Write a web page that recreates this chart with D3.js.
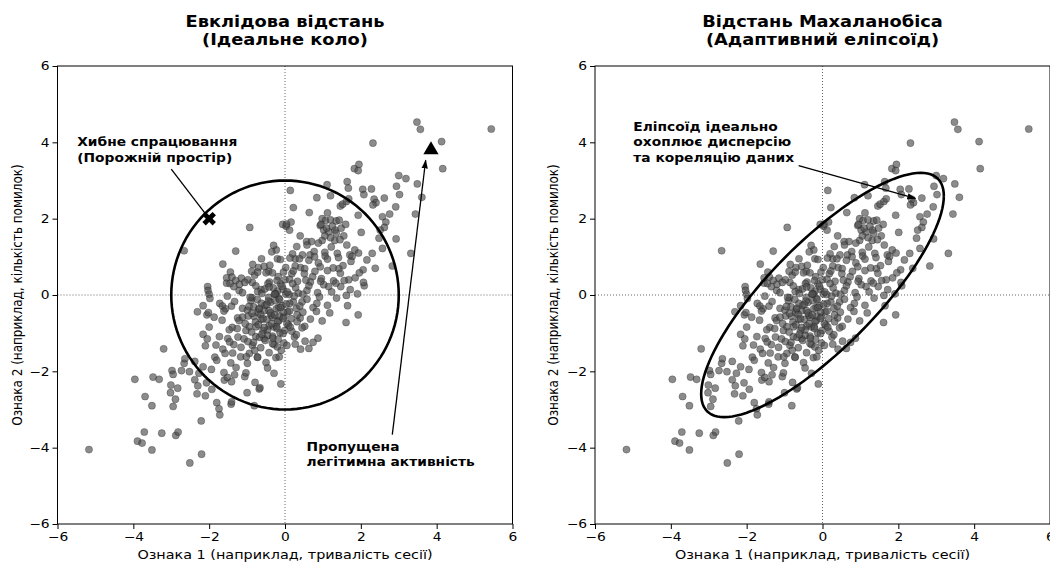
<!doctype html>
<html>
<head>
<meta charset="UTF-8">
<title>Евклідова відстань / Відстань Махаланобіса</title>
<script src="https://cdn.jsdelivr.net/npm/d3@7"></script>
<style>
  body { margin: 0; background: #fff; }
  text { font-family: "DejaVu Sans", sans-serif; }
</style>
</head>
<body>
<svg id="chart" width="1050" height="564"></svg>
<script>
// ---- data ----
var ticks = [-6, -4, -2, 0, 2, 4, 6];
var xLabel = "Ознака 1 (наприклад, тривалість сесії)";
var yLabel = "Ознака 2 (наприклад, кількість помилок)";
var titlesLeft = ["Евклідова відстань", "(Ідеальне коло)"];
var titlesRight = ["Відстань Махаланобіса", "(Адаптивний еліпсоїд)"];

// lower-left tail
var tailLow = [[-5.17,-4.05],[-3.96,-2.21],[-3.69,-2.66],[-3.51,-2.90],[-3.48,-2.15],[-3.32,-2.21],[-3.20,-1.41],
  [-3.89,-3.83],[-3.77,-3.88],[-3.71,-3.59],[-3.51,-4.06],[-3.25,-3.62],[-2.88,-3.68],[-2.82,-3.59],[-2.51,-4.40],
  [-2.20,-4.17],[-2.21,-3.30],[-2.98,-1.98],[-2.95,-2.08],[-3.01,-2.36],[-2.83,-2.44],[-3.02,-2.56],[-2.89,-2.73],
  [-2.95,-2.92],[-2.73,-1.98],[-2.66,-1.79],[-2.64,-1.67],[-2.52,-2.01],[-2.38,-1.74],[-2.38,-2.22],[-2.30,-2.38],
  [-2.32,-2.59],[-2.10,-2.64],[-2.07,-2.30],[-1.93,-2.47],[-2.27,-2.05],[-2.16,-1.88],[-1.94,-1.95],[-1.80,-2.82],
  [-1.74,-2.98],[-1.72,-3.14],[-1.42,-2.86],[-1.41,-2.80],[-1.60,-2.23],[-1.52,-2.16],[-1.41,-2.27],[-1.33,-2.09],
  [-1.06,-2.14],[-1.00,-2.56],[-0.79,-2.29],[-0.68,-2.46],[-0.81,-2.90],[-1.85,-1.63],[-1.80,-1.71],[-1.64,-1.42],
  [-1.58,-1.53],[-2.16,-1.03],[-2.10,-1.33],[-2.31,-0.44],[-2.16,-0.28],[-2.06,-0.52],[-2.02,-0.46],[-2.04,0.22],
  [-2.03,0.12],[-2.00,0.02],[-1.98,-0.09],[-1.72,-0.22],[-1.65,-0.29],[-1.52,-0.03],[-1.41,-0.29],[-0.11,-2.33],
  [-0.66,-2.43]];

// left half of the cloud
var coreLeft = [[-1.54,0.31],[-1.21,0.12],[-0.86,0.33],[-0.63,0.14],[-0.41,0.34],[-0.20,0.10],
  [-1.12,0.06],[-0.87,-0.07],[-0.72,0.09],[-0.43,-0.06],[-0.24,0.03],
  [-1.57,-0.36],[-1.33,-0.17],[-1.12,-0.35],[-0.90,-0.15],[-0.69,-0.38],[-0.38,-0.19],[-0.17,-0.33],
  [-1.87,-0.58],[-1.61,-0.42],[-1.25,-0.60],[-0.99,-0.40],[-0.82,-0.56],[-0.55,-0.41],[-0.33,-0.58],
  [-2.00,-0.84],[-1.66,-0.66],[-1.39,-0.85],[-1.21,-0.67],[-0.94,-0.83],[-0.63,-0.64],[-0.42,-0.81],[-0.16,-0.67],
  [-1.73,-1.09],[-1.47,-0.91],[-1.24,-1.10],[-1.03,-0.93],[-0.77,-1.09],[-0.46,-0.92],[-0.33,-1.08],
  [-2.05,-1.15],[-1.82,-1.31],[-1.51,-1.14],[-1.35,-1.30],[-1.08,-1.15],[-0.86,-1.32],[-0.55,-1.14],[-0.29,-1.30],
  [-1.38,-1.52],[-1.16,-1.37],[-0.94,-1.53],[-0.64,-1.38],[-0.42,-1.51],[-0.20,-1.36],
  [-1.43,-1.78],[-1.17,-1.62],[-0.99,-1.79],[-0.73,-1.63],[-0.50,-1.77],[-0.24,-1.64],
  [-1.61,-2.03],[-1.29,-1.90],[-1.03,-2.04],[-0.46,-1.91],[-0.29,-2.05]];

// dense centre
var coreMid = [[-0.92,-0.06],[-0.73,-0.12],[-0.61,0.04],[-0.44,-0.16],[-0.28,0.02],[-0.16,-0.09],[0.02,0.03],
  [-0.83,-0.31],[-0.71,-0.46],[-0.53,-0.27],[-0.42,-0.41],[-0.23,-0.36],[-0.08,-0.28],[0.07,-0.44],
  [-0.97,-0.55],[-0.78,-0.71],[-0.64,-0.51],[-0.48,-0.64],[-0.36,-0.53],[-0.19,-0.69],[-0.03,-0.57],
  [-0.88,-0.97],[-0.76,-0.83],[-0.58,-0.93],[-0.46,-1.06],[-0.29,-0.84],[-0.13,-0.99],
  [-0.83,-1.24],[-0.67,-1.11],[-0.52,-1.19],[-0.33,-1.27],[-0.18,-1.16],[-0.03,-1.26],
  [-0.31,0.19],[-0.12,0.29],[0.11,0.01],[-0.53,0.16],[-0.77,0.24],[0.22,-0.18],[0.16,-0.62],[0.09,-0.79],[-0.01,-0.93],
  [-0.62,-0.22],[-0.35,-0.75],[-0.05,-0.45],[-0.55,-0.85],[-0.25,-0.15],[0.05,-0.75],[-0.68,-0.35],[-0.15,-0.55],
  [0.30,-0.35],[0.35,0.05],[-0.45,0.30],[-0.95,-0.30],[-1.05,-0.75],[0.00,0.40],[0.40,-0.60],[-0.80,-1.45],
  [-0.10,-1.45],[0.25,-1.10],
  [-0.58,-0.62],[-0.38,-0.47],[-0.22,-0.83],[-0.70,-0.78],[-0.12,-0.33],[0.12,-0.22],[-0.48,-0.25],[-0.32,-1.13],
  [-0.61,-1.03],[0.18,-0.95],[0.32,-0.52],[0.45,-0.18],[0.58,0.12],[0.73,0.48],[0.41,0.72],[0.18,0.56],
  [-0.18,0.48],[-0.43,0.62],[0.88,0.84],[1.05,1.12],[1.31,1.43],[0.66,1.05],[0.27,0.95],[-0.05,0.15],
  [-0.87,-0.48],[-1.12,-0.58],[-1.26,-0.88],[-0.98,-1.22],[-1.46,-1.23],[-0.15,-1.62],[0.05,-1.32],[0.52,-0.82],
  [0.84,-0.22],[1.15,0.22],[1.42,0.69],[1.71,1.05],[0.98,1.43],[-0.72,-1.63],[-1.02,-1.62],[-0.27,-0.52]];

// upper-left of the cloud
var upLeft = [[-0.93,1.77],[-1.30,1.15],[-2.66,1.16],[-1.64,0.81],[-1.44,0.60],[-1.54,0.45],[-1.40,0.47],
  [-1.15,0.44],[-0.98,0.40],[-0.80,0.52],[-0.85,0.80],[-0.70,0.72],[-0.55,0.75],[-0.40,0.78],[-0.50,0.58],
  [-0.72,0.60],[-0.88,0.62],[-0.23,1.18],[-0.30,1.30],[-0.06,1.85],[0.03,1.80],[0.16,1.91],[-1.45,0.30],
  [-1.30,0.38],[-1.20,0.28],[-1.06,0.33],[-1.35,0.22],[-0.35,1.13],[-0.62,0.95],[-0.20,0.95]];

// upper-right tail
var tailHigh = [[3.48,4.53],[3.57,4.34],[5.44,4.35],[4.13,4.02],[4.16,3.31],[2.32,3.98],[1.83,3.31],[1.95,3.42],
  [1.93,3.26],[3.00,3.13],[3.19,3.05],[2.94,2.85],[3.49,2.91],[3.02,2.63],[3.61,2.56],[2.92,2.31],[3.44,2.12],
  [2.93,1.47],[3.32,1.09],[2.83,0.76],[2.38,0.70],[2.09,0.24],[1.64,2.97],[1.67,2.80],[1.11,2.89],[1.20,2.60],
  [0.14,2.74],[0.84,2.55],[0.22,2.29],[0.64,2.16],[1.12,2.15],[1.46,2.33],[1.52,2.38],[1.62,2.45],[1.68,2.52],
  [2.05,2.77],[2.28,2.78],[2.08,2.63],[2.35,2.51],[2.40,2.42],[2.32,2.36],[2.62,2.54],[1.93,2.09],[2.57,2.05],
  [2.76,2.12],[2.66,1.91],[2.62,1.77],[2.51,1.70],[2.01,1.64],[2.48,1.49],[2.57,1.22],[2.30,1.09],[2.16,0.92],
  [1.84,1.18],[1.94,1.10],[0.98,2.00],[1.07,1.95],[1.20,1.97],[1.35,1.94],[1.43,1.96],[0.93,1.82],[1.02,1.70],
  [1.15,1.65],[1.32,1.70],[1.48,1.75],[1.60,1.85],[0.04,1.86],[0.12,1.70],[0.40,1.55],[0.57,1.40],[0.70,1.40],
  [0.95,1.85],[1.10,1.75],[1.25,1.80],[1.35,1.62],[1.55,1.55],[1.45,1.45],[1.20,1.50],[1.05,1.55],
  [2.06,0.66],[1.85,0.45]];

// right half of the cloud
var coreRight = [[0.20,1.08],[0.31,1.27],[0.46,1.05],[0.58,1.31],[0.77,1.14],[0.88,1.36],[1.06,1.02],[1.22,1.26],
  [1.38,1.09],[1.63,1.31],[1.77,1.01],
  [-0.12,0.93],[0.02,0.72],[0.13,0.97],[0.27,0.76],[0.38,0.95],[0.52,0.69],[0.63,0.91],[0.78,1.00],[0.93,0.74],
  [1.12,0.94],[1.27,0.71],[1.41,0.98],[1.53,0.77],[1.74,0.88],
  [-0.33,0.58],[-0.21,0.38],[-0.04,0.60],[0.12,0.41],[0.22,0.63],[0.33,0.36],[0.51,0.56],[0.67,0.34],[0.79,0.62],
  [0.96,0.43],[1.12,0.64],[1.28,0.37],[1.46,0.57],[1.68,0.40],[1.96,0.58],
  [-0.42,0.21],[-0.26,0.03],[-0.08,0.23],[0.06,0.08],[0.28,0.19],[0.47,0.02],[0.63,0.24],[0.86,0.06],[1.02,0.27],
  [1.23,0.08],[1.47,0.22],[1.62,-0.01],[1.72,0.14],[1.91,0.03],[2.07,0.33],[1.56,0.38],[1.34,0.31],[0.94,0.36],
  [0.55,0.39],[0.20,0.30],
  [1.36,-0.08],[1.12,-0.27],[0.91,-0.05],[0.74,-0.33],[0.58,-0.11],[0.39,-0.29],[0.24,-0.03],[0.03,-0.24],
  [-0.14,-0.12],
  [1.18,-0.47],[0.98,-0.68],[0.83,-0.43],[0.67,-0.63],[0.47,-0.45],[0.32,-0.70],[0.12,-0.42],[-0.05,-0.61],
  [0.45,-0.86],[0.30,-1.04],[0.14,-0.84],[-0.05,-1.01],[-0.21,-0.88],
  [0.74,-1.24],[0.63,-1.40],[0.53,-1.21],[0.41,-1.42],[0.27,-1.29],
  [1.93,-0.52],[1.65,-0.28],[1.61,-0.72],[0.87,-1.13]];

var points = tailLow.concat(coreLeft, coreMid, upLeft, tailHigh, coreRight);

var circleRadius = 3;
var falseAlarm = [-2, 2];
var missedPoint = [3.85, 3.8];
// ellipse: half extents and correlation
var ellX = 3.2, ellY = 3.2, ellR = 0.81;

// the picture is a little wider than tall, so text is stretched sideways
var STRETCH = 1.15;

var svg = d3.select("#chart");
svg.append("rect").attr("width", 1050).attr("height", 564).attr("fill", "#fff");

var defs = svg.append("defs");
defs.append("marker")
  .attr("id", "head")
  .attr("viewBox", "0 0 10 10")
  .attr("refX", 9).attr("refY", 5)
  .attr("markerWidth", 9).attr("markerHeight", 9)
  .attr("markerUnits", "userSpaceOnUse")
  .attr("orient", "auto")
  .append("path")
  .attr("d", "M0,1.5 L10,5 L0,8.5 Z")
  .attr("fill", "#000");

var fmt = function(d){ return d < 0 ? "\u2212" + Math.abs(d) : d; };

function stretch(sel) {
  sel.each(function(){
    var t = d3.select(this);
    var x = +t.attr("x") || 0, y = +t.attr("y") || 0;
    t.attr("x", 0).attr("y", 0)
     .attr("transform", "translate(" + x + "," + y + ") scale(" + STRETCH + ",1)");
  });
}

function drawPanel(left, right, titles, ylabX) {
  var top = 66, bottom = 524;
  var x = d3.scaleLinear().domain([-6, 6]).range([left, right]);
  var y = d3.scaleLinear().domain([-6, 6]).range([bottom, top]);
  var g = svg.append("g");

  // titles
  g.selectAll(".title").data(titles).enter().append("text")
    .attr("x", (left + right) / 2)
    .attr("y", function(d, i){ return 27 + i * 17.5; })
    .attr("text-anchor", "middle")
    .attr("font-size", 15.5).attr("font-weight", "bold")
    .text(function(d){ return d; })
    .call(stretch);

  // zero lines
  g.append("line")
    .attr("x1", x(0)).attr("x2", x(0)).attr("y1", top).attr("y2", bottom)
    .attr("stroke", "#666").attr("stroke-width", 1).attr("stroke-dasharray", "1,2");
  g.append("line")
    .attr("x1", left).attr("x2", right).attr("y1", y(0)).attr("y2", y(0))
    .attr("stroke", "#666").attr("stroke-width", 1).attr("stroke-dasharray", "1,2");

  // scatter
  g.selectAll(".pt").data(points).enter().append("circle")
    .attr("cx", function(d){ return x(d[0]); })
    .attr("cy", function(d){ return y(d[1]); })
    .attr("r", 3.6)
    .attr("fill", "#4d4d4d")
    .attr("fill-opacity", 0.65)
    .attr("stroke", "#000")
    .attr("stroke-opacity", 0.4)
    .attr("stroke-width", 0.6);

  // axes
  var ax = g.append("g").attr("transform", "translate(0," + bottom + ")")
    .call(d3.axisBottom(x).tickValues(ticks).tickSize(5).tickPadding(3).tickFormat(fmt));
  var ay = g.append("g").attr("transform", "translate(" + left + ",0)")
    .call(d3.axisLeft(y).tickValues(ticks).tickSize(5).tickPadding(3).tickFormat(fmt));
  [ax, ay].forEach(function(a){
    a.select(".domain").remove();
    a.selectAll("text").attr("font-size", 12).attr("font-family", "DejaVu Sans").attr("fill", "#000")
      .call(stretch);
    a.selectAll("line").attr("stroke", "#000");
  });

  g.append("rect")
    .attr("x", left).attr("y", top).attr("width", right - left).attr("height", bottom - top)
    .attr("fill", "none").attr("stroke", "#000").attr("stroke-width", 1);

  g.append("text")
    .attr("x", (left + right) / 2).attr("y", 559)
    .attr("text-anchor", "middle").attr("font-size", 12.5)
    .text(xLabel)
    .call(stretch);
  g.append("text")
    .attr("transform", "translate(" + ylabX + "," + ((top + bottom) / 2) + ") scale(" + STRETCH + ",1) rotate(-90)")
    .attr("text-anchor", "middle").attr("dy", "0.35em").attr("font-size", 12)
    .text(yLabel);

  return {g: g, x: x, y: y};
}

function multiText(g, lines, px, py, step) {
  g.selectAll(null).data(lines).enter().append("text")
    .attr("x", px).attr("y", function(d, i){ return py + i * step; })
    .attr("font-size", 12).attr("font-weight", "bold")
    .text(function(d){ return d; })
    .call(stretch);
}

// ---- left: Euclidean ----
var L = drawPanel(57.5, 512.5, titlesLeft, 17);
var ang = d3.range(0, 361, 3).map(function(a){ return a * Math.PI / 180; });
L.g.append("path")
  .datum(ang)
  .attr("d", d3.line()
    .x(function(t){ return L.x(circleRadius * Math.cos(t)); })
    .y(function(t){ return L.y(circleRadius * Math.sin(t)); }))
  .attr("fill", "none").attr("stroke", "#000").attr("stroke-width", 2.6);

L.g.append("line")
  .attr("x1", L.x(-3.0)).attr("y1", L.y(3.3))
  .attr("x2", L.x(falseAlarm[0])).attr("y2", L.y(falseAlarm[1]))
  .attr("stroke", "#000").attr("stroke-width", 1.3);
L.g.append("path")
  .attr("d", d3.symbol().type(d3.symbolCross).size(115))
  .attr("transform", "translate(" + L.x(falseAlarm[0]) + "," + L.y(falseAlarm[1]) + ") rotate(45)")
  .attr("fill", "#000");
multiText(L.g, ["Хибне спрацювання", "(Порожній простір)"], L.x(-5.48), L.y(3.9), 15.5);

L.g.append("path")
  .attr("d", d3.symbol().type(d3.symbolTriangle).size(100))
  .attr("transform", "translate(" + L.x(missedPoint[0]) + "," + L.y(missedPoint[1]) + ")")
  .attr("fill", "#000");
L.g.append("line")
  .attr("x1", L.x(2.83)).attr("y1", L.y(-3.66))
  .attr("x2", L.x(3.71)).attr("y2", L.y(3.53))
  .attr("stroke", "#000").attr("stroke-width", 1.3)
  .attr("marker-end", "url(#head)");
multiText(L.g, ["Пропущена", "легітимна активність"], L.x(0.57), L.y(-4.08), 15.5);

// ---- right: Mahalanobis ----
var R = drawPanel(595, 1050, titlesRight, 553);
R.g.append("path")
  .datum(ang)
  .attr("d", d3.line()
    .x(function(t){ return R.x(ellX * Math.cos(t)); })
    .y(function(t){ return R.y(ellY * (ellR * Math.cos(t) + Math.sqrt(1 - ellR * ellR) * Math.sin(t))); }))
  .attr("fill", "none").attr("stroke", "#000").attr("stroke-width", 2.6);
R.g.append("line")
  .attr("x1", R.x(-0.63)).attr("y1", R.y(3.39))
  .attr("x2", R.x(2.45)).attr("y2", R.y(2.53))
  .attr("stroke", "#000").attr("stroke-width", 1.3)
  .attr("marker-end", "url(#head)");
multiText(R.g, ["Еліпсоїд ідеально", "охоплює дисперсію", "та кореляцію даних"], R.x(-4.99), R.y(4.30), 15.5);
</script>
</body>
</html>
